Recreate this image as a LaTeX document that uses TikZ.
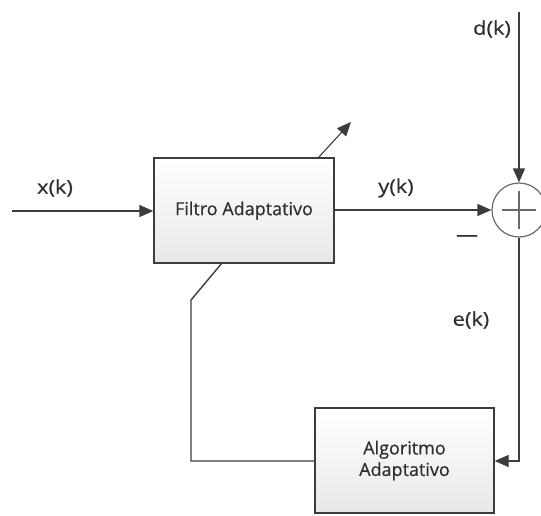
\documentclass[tikz,border=0pt]{standalone}
\usepackage{fontspec}
\setmainfont[FakeBold=0.6]{Open Sans}
\newfontfamily\signalfont[FakeStretch=1.15,FakeBold=0.6]{Open Sans}
\usetikzlibrary{arrows.meta}
\definecolor{linegray}{HTML}{3C3C3C}
\definecolor{ringgray}{HTML}{6A6A6A}
\definecolor{txtgray}{HTML}{303030}
\tikzset{
  block/.style={draw=linegray, line width=1.4pt, rectangle, minimum width=180pt,
    top color=white, bottom color=black!9, text=txtgray, align=center,
    font=\fontsize{18}{21.5}\selectfont, inner sep=0pt},
  sig/.style={draw=linegray, line width=1.4pt},
  arr/.style={sig, -{Triangle[length=14pt,width=12pt]}},
  lbl/.style={text=txtgray, font=\signalfont\fontsize{19}{22}\selectfont, inner sep=0pt}
}
\begin{document}
\begin{tikzpicture}[x=1pt,y=-1pt]
\useasboundingbox (0,0) rectangle (541,516);

% blocks
\node[block, minimum height=105pt] (filtro) at (244,210.5) {Filtro Adaptativo};
\node[block, minimum width=179pt, minimum height=105pt] (algo) at (404.5,460.5) {Algoritmo\\Adaptativo};

% summing junction
\node[draw=ringgray, line width=1.2pt, circle, minimum size=54pt, inner sep=0pt] (sum) at (519,210) {};
\draw[ringgray, line width=1.2pt] ([xshift=-17pt]sum.center) -- ([xshift=17pt]sum.center);
\draw[ringgray, line width=1.2pt] ([yshift=-19pt]sum.center) -- ([yshift=19pt]sum.center);

% free ends and bends
\coordinate (xin) at (12,211);
\coordinate (dtop) at (519,12);
\coordinate (ecorner) at (519,461);
\coordinate (fbA) at (191,461);
\coordinate (fbB) at (191,300);
\coordinate (fbC) at (222,263);
\coordinate (adA) at (319,157);
\coordinate (adB) at (351,122);

% signal paths
\draw[arr] (xin) -- (filtro.west |- xin);
\draw[arr] (filtro.east |- sum.west) -- (sum.west);
\draw[arr] (dtop) -- (sum.north);
\draw[arr] (sum.south) -- (ecorner) -- (algo.east |- ecorner);
\draw[sig] (algo.west |- fbA) -- (fbA) -- (fbB) -- (fbC);
\draw[sig, line width=1.1pt, -{Triangle[length=14pt,width=12pt]}] (adA) -- (adB);

% labels
\node[lbl] (lx) at (55,188) {x(k)};
\node[lbl] (ly) at (396,188) {y(k)};
\node[lbl] (ld) at (492,29) {d(k)};
\node[lbl] (le) at (471,320) {e(k)};
\node[lbl] (lminus) at (467,238) {—};
\end{tikzpicture}
\end{document}
